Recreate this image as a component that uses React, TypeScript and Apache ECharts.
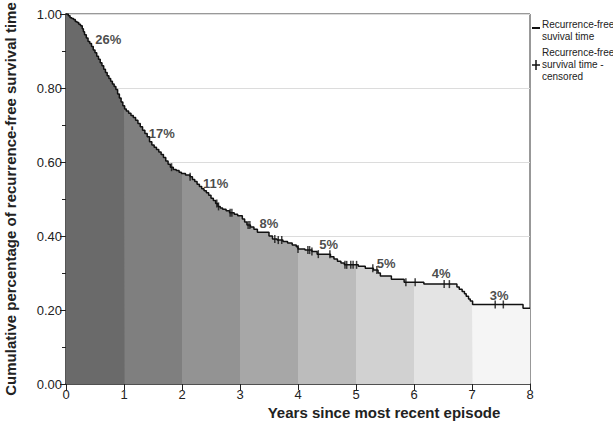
import React, { useEffect, useRef } from "react";
import * as echarts from "echarts";

// Kaplan-Meier step times (years) and survival value after each step
const stepTimes = [
  0, 0.04, 0.07, 0.1, 0.13, 0.16, 0.19, 0.22, 0.25, 0.28, 0.3, 0.32, 0.35, 0.38, 0.41, 0.44, 0.47, 0.5,
  0.53, 0.56, 0.59, 0.62, 0.65, 0.68, 0.71, 0.74, 0.77, 0.8, 0.83, 0.86, 0.89, 0.92, 0.95, 0.98,
  1.01, 1.04, 1.08, 1.12, 1.16, 1.2, 1.24, 1.28, 1.32, 1.36, 1.4, 1.44, 1.48, 1.52, 1.56, 1.6, 1.64,
  1.68, 1.72, 1.76, 1.8, 1.85, 1.9, 1.95, 1.99,
  2.06, 2.14, 2.18, 2.22, 2.26, 2.3, 2.34, 2.38, 2.42, 2.46, 2.5, 2.54, 2.58, 2.62, 2.66, 2.7, 2.76, 2.82, 2.9, 2.96,
  3.04, 3.08, 3.12, 3.18, 3.24, 3.3, 3.5, 3.56, 3.64, 3.74, 3.82, 3.9, 3.97,
  4.0, 4.12, 4.24, 4.33, 4.56, 4.62, 4.68, 4.74, 4.8,
  5.04, 5.16, 5.3, 5.38, 5.42, 5.61, 5.83,
  6.17, 6.74, 6.78, 6.83, 6.87, 6.9, 6.94, 6.97,
  7.01, 7.88,
];
const survival = [
  1.0, 0.995, 0.99, 0.988, 0.985, 0.98, 0.977, 0.972, 0.968, 0.96, 0.952, 0.944, 0.935, 0.926, 0.92, 0.912, 0.903, 0.895,
  0.886, 0.878, 0.868, 0.86, 0.851, 0.842, 0.833, 0.826, 0.818, 0.811, 0.804, 0.796, 0.784, 0.773, 0.762, 0.752,
  0.743, 0.738, 0.732, 0.726, 0.72, 0.713, 0.704, 0.695, 0.686, 0.677, 0.668, 0.655, 0.646, 0.64, 0.634, 0.627, 0.62,
  0.612, 0.603, 0.594, 0.586, 0.58, 0.577, 0.572, 0.569,
  0.565, 0.56, 0.553, 0.547, 0.54, 0.534, 0.528, 0.522, 0.517, 0.51, 0.502, 0.496, 0.488, 0.48, 0.476, 0.472, 0.468, 0.463, 0.459, 0.455,
  0.446, 0.438, 0.43, 0.424, 0.418, 0.41, 0.4, 0.392, 0.389, 0.385, 0.381, 0.376, 0.371,
  0.365, 0.362, 0.358, 0.351, 0.344, 0.338, 0.332, 0.327, 0.322,
  0.318, 0.313, 0.308, 0.3, 0.292, 0.283, 0.275,
  0.27, 0.262, 0.256, 0.25, 0.244, 0.237, 0.23, 0.224,
  0.215, 0.205,
];
const censorTimes = [
  1.82, 2.14, 2.6, 2.63, 2.83, 2.86, 3.14, 3.17, 3.6, 3.66, 3.72, 4.0, 4.17, 4.2, 4.24, 4.35, 4.55,
  4.81, 4.84, 4.91, 4.95, 5.01, 5.29, 5.36, 5.86, 6.02, 6.52, 6.61, 7.4, 7.54,
];
const yearLabels = ["26%", "17%", "11%", "8%", "5%", "5%", "4%", "3%"];
const bandColors = ["#6a6a6a", "#7f7f7f", "#939393", "#a7a7a7", "#bcbcbc", "#d1d1d1", "#e4e4e4", "#f5f5f5"];
const xMax = 8;

const FONT = 'Arial, "Liberation Sans", Helvetica, sans-serif';

function survivalAt(t: number, strictlyBefore = false): number {
  let v = survival[0];
  for (let i = 0; i < stepTimes.length; i++) {
    if (strictlyBefore ? stepTimes[i] < t : stepTimes[i] <= t) v = survival[i];
  }
  return v;
}

export default function App() {
  const ref = useRef<HTMLDivElement>(null);
  useEffect(() => {
    if (!ref.current) return;
    const chart = echarts.init(ref.current, null, { renderer: "svg" });

    const mainData = stepTimes.map((t, i) => [t, survival[i]]);
    mainData.push([xMax, survival[survival.length - 1]]);

    const bandSeries = bandColors.map((c, k) => {
      const pts: number[][] = [[k, survivalAt(k)]];
      stepTimes.forEach((t, i) => {
        if (t > k && t < k + 1) pts.push([t, survival[i]]);
      });
      const end = k + 1 < xMax ? k + 1.02 : k + 1;
      pts.push([end, survivalAt(k + 1, true)]);
      return {
        type: "line",
        step: "end",
        data: pts,
        symbol: "none",
        silent: true,
        lineStyle: { width: 0 },
        areaStyle: { color: c, opacity: 1 },
        z: 1,
      };
    });

    // label anchors (data coords) for the yearly percentages
    const labelAnchors = [
      [0.73, 0.93], [1.65, 0.678], [2.58, 0.543], [3.5, 0.433],
      [4.53, 0.376], [5.52, 0.327], [6.47, 0.3], [7.47, 0.24],
    ];

    chart.setOption({
      animation: false,
      grid: {
        left: 66, right: 83, top: 14, bottom: 41,
        outerBoundsMode: "none",
        containLabel: false,
        show: true, borderColor: "#333", borderWidth: 1, backgroundColor: "transparent",
      },
      xAxis: {
        type: "value",
        min: 0,
        max: xMax,
        interval: 1,
        axisLine: { show: true, lineStyle: { color: "#222", width: 1.5 } },
        axisTick: { show: true, length: 6, lineStyle: { color: "#222" } },
        axisLabel: { color: "#222", fontSize: 13, fontFamily: FONT, margin: 4 },
        splitLine: { show: false },
      },
      yAxis: {
        type: "value",
        min: 0,
        max: 1,
        interval: 0.2,
        name: "Cumulative percentage of recurrence-free survival time",
        nameLocation: "middle",
        nameGap: 48,
        nameTextStyle: { color: "#222", fontSize: 15, fontWeight: "bold", fontFamily: FONT },
        axisLine: { show: true, lineStyle: { color: "#555", width: 2 } },
        axisTick: { show: true, length: 6, lineStyle: { color: "#222" } },
        minorTick: { show: true, splitNumber: 2, length: 4, lineStyle: { color: "#222" } },
        axisLabel: { color: "#222", fontSize: 13, fontFamily: FONT, margin: 4, formatter: (v: number) => v.toFixed(2) },
        splitLine: { show: true, lineStyle: { color: "#dcdcdc", width: 1 } },
      },
      series: [
        ...bandSeries,
        {
          type: "line",
          step: "end",
          data: mainData,
          symbol: "none",
          lineStyle: { color: "#111", width: 1.5 },
          z: 5,
        },
        {
          type: "scatter",
          data: censorTimes.map((t) => [t, survivalAt(t)]),
          symbol: "rect",
          symbolSize: [1.5, 8],
          itemStyle: { color: "#111" },
          z: 6,
        },
        {
          type: "scatter",
          data: yearLabels.map((l, i) => ({ value: labelAnchors[i], name: l })),
          symbolSize: 0,
          label: {
            show: true,
            position: "inside",
            formatter: (p: any) => p.name,
            color: "#1a1a1a",
            fontSize: 13,
            fontWeight: "bold",
            fontFamily: FONT,
          },
          z: 7,
        },
      ],
      graphic: [
        {
          type: "text",
          x: 384,
          y: 412,
          style: {
            text: "Years since most recent episode",
            font: `bold 15px ${FONT}`,
            fill: "#222",
            textAlign: "center",
            textVerticalAlign: "middle",
          },
        },
        { type: "line", shape: { x1: 532, y1: 28, x2: 540, y2: 28 }, style: { stroke: "#111", lineWidth: 2 } },
        {
          type: "text",
          x: 542,
          y: 18,
          style: { text: "Recurrence-free\nsuvival time", font: `10px ${FONT}`, lineHeight: 12, fill: "#222" },
        },
        { type: "line", shape: { x1: 532, y1: 65, x2: 540, y2: 65 }, style: { stroke: "#111", lineWidth: 1.5 } },
        { type: "line", shape: { x1: 536, y1: 60, x2: 536, y2: 70 }, style: { stroke: "#111", lineWidth: 1.5 } },
        {
          type: "text",
          x: 542,
          y: 46,
          style: { text: "Recurrence-free\nsurvival time -\ncensored", font: `10px ${FONT}`, lineHeight: 12, fill: "#222" },
        },
      ],
    });
    return () => chart.dispose();
  }, []);
  return <div ref={ref} style={{ position: "fixed", left: 0, top: 0, width: 613, height: 425, background: "#fff" }} />;
}
